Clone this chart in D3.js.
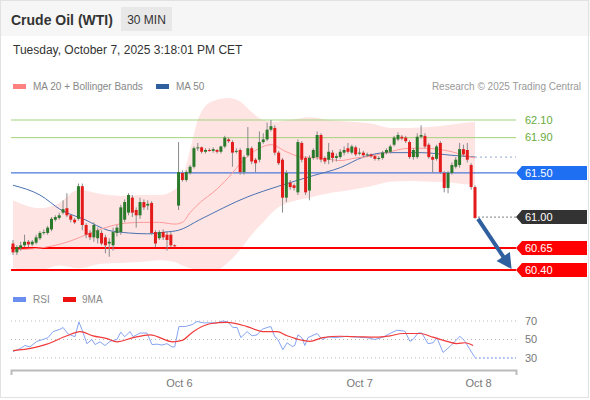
<!DOCTYPE html>
<html>
<head>
<meta charset="utf-8">
<script src="https://cdnjs.cloudflare.com/ajax/libs/d3/7.8.5/d3.min.js"></script>
<style>
  body { margin: 0; background: #fff; }
  svg { font-family: "Liberation Sans", Arial, sans-serif; display: block; }
</style>
</head>
<body>
<div id="chart"></div>
<script>
// 30 min candles, [open, high, low, close]
const candles = [
  [60.70, 60.74, 60.57, 60.60], [60.60, 60.68, 60.57, 60.66], [60.65, 60.72, 60.62, 60.68], [60.68, 60.80, 60.66, 60.72],
  [60.72, 60.74, 60.66, 60.69], [60.69, 60.74, 60.67, 60.72], [60.71, 60.80, 60.69, 60.77], [60.76, 60.84, 60.74, 60.82],
  [60.82, 60.86, 60.80, 60.83], [60.82, 60.90, 60.80, 60.88], [60.86, 61.00, 60.84, 60.98], [60.97, 61.02, 60.95, 61.00],
  [60.99, 61.05, 60.97, 61.02], [61.05, 61.19, 61.03, 61.09], [61.10, 61.27, 61.00, 61.02], [61.02, 61.03, 60.94, 60.97],
  [60.97, 60.99, 60.92, 60.94], [60.98, 61.38, 60.96, 61.35], [61.35, 61.38, 60.85, 60.91], [60.91, 60.93, 60.76, 60.80],
  [60.82, 60.85, 60.74, 60.77], [60.77, 60.94, 60.72, 60.91], [60.76, 60.88, 60.70, 60.85], [60.82, 60.85, 60.68, 60.70],
  [60.77, 60.80, 60.59, 60.68], [60.70, 60.76, 60.55, 60.72], [60.68, 60.88, 60.62, 60.83], [60.82, 60.91, 60.78, 60.88],
  [60.83, 61.14, 60.80, 61.11], [60.97, 61.20, 60.94, 61.17], [61.05, 61.27, 61.02, 61.25], [61.22, 61.25, 61.00, 61.05],
  [61.08, 61.11, 60.88, 61.02], [61.02, 61.22, 60.98, 61.17], [61.17, 61.20, 61.08, 61.11], [61.13, 61.19, 61.08, 61.15],
  [61.16, 61.18, 60.80, 60.82], [60.83, 60.85, 60.66, 60.70], [60.76, 60.85, 60.74, 60.83], [60.83, 60.86, 60.74, 60.77],
  [60.80, 60.83, 60.62, 60.74], [60.80, 60.83, 60.66, 60.68], [60.68, 60.69, 60.66, 60.67], [61.13, 61.85, 61.08, 61.51],
  [61.50, 61.53, 61.40, 61.42], [61.42, 61.53, 61.40, 61.51], [61.50, 61.59, 61.48, 61.57], [61.57, 61.80, 61.55, 61.78],
  [61.78, 61.84, 61.75, 61.79], [61.79, 61.80, 61.72, 61.74], [61.74, 61.78, 61.72, 61.76], [61.76, 61.78, 61.74, 61.75],
  [61.75, 61.79, 61.73, 61.77], [61.76, 61.77, 61.72, 61.74], [61.74, 61.81, 61.72, 61.80], [61.80, 61.92, 61.78, 61.90],
  [61.88, 61.90, 61.84, 61.86], [61.85, 61.87, 61.57, 61.73], [61.74, 61.78, 61.72, 61.75], [61.76, 61.78, 61.48, 61.51],
  [61.51, 61.70, 61.48, 61.68], [61.70, 62.02, 61.68, 61.78], [61.78, 61.80, 61.60, 61.63], [61.65, 61.67, 61.51, 61.61],
  [61.65, 61.97, 61.62, 61.85], [61.85, 61.95, 61.83, 61.88], [61.88, 62.07, 61.86, 61.99], [61.99, 62.10, 61.97, 62.03],
  [62.01, 62.04, 61.70, 61.73], [61.73, 61.75, 61.59, 61.61], [61.65, 61.67, 61.05, 61.22], [61.22, 61.53, 61.17, 61.50],
  [61.39, 61.42, 61.31, 61.34], [61.36, 61.38, 61.30, 61.33], [61.28, 61.88, 61.25, 61.85], [61.84, 61.86, 61.62, 61.65],
  [61.67, 61.69, 61.25, 61.28], [61.30, 61.70, 61.19, 61.67], [61.67, 61.78, 61.65, 61.76], [61.68, 61.97, 61.65, 61.93],
  [61.93, 61.95, 61.62, 61.65], [61.67, 61.69, 61.60, 61.63], [61.65, 61.84, 61.60, 61.74], [61.73, 61.76, 61.62, 61.67],
  [61.67, 61.72, 61.63, 61.69], [61.68, 61.77, 61.66, 61.74], [61.73, 61.80, 61.70, 61.76], [61.78, 61.84, 61.72, 61.74],
  [61.73, 61.82, 61.71, 61.80], [61.79, 61.81, 61.69, 61.71], [61.72, 61.78, 61.70, 61.73], [61.73, 61.75, 61.68, 61.70],
  [61.70, 61.73, 61.68, 61.71], [61.71, 61.72, 61.67, 61.69], [61.69, 61.71, 61.64, 61.66], [61.66, 61.69, 61.64, 61.67],
  [61.67, 61.75, 61.65, 61.73], [61.73, 61.78, 61.71, 61.76], [61.74, 61.82, 61.72, 61.80], [61.82, 61.92, 61.80, 61.90],
  [61.88, 61.96, 61.86, 61.93], [61.91, 61.93, 61.87, 61.89], [61.90, 61.92, 61.84, 61.86], [61.85, 61.87, 61.66, 61.68],
  [61.68, 61.78, 61.65, 61.76], [61.68, 61.95, 61.66, 61.91], [61.91, 62.04, 61.89, 61.93], [61.92, 61.95, 61.78, 61.80],
  [61.82, 61.84, 61.66, 61.68], [61.68, 61.70, 61.50, 61.65], [61.66, 61.82, 61.64, 61.80], [61.84, 61.86, 61.49, 61.51],
  [61.50, 61.52, 61.28, 61.33], [61.33, 61.52, 61.27, 61.50], [61.50, 61.62, 61.48, 61.59], [61.57, 61.68, 61.55, 61.65],
  [61.59, 61.84, 61.56, 61.77], [61.77, 61.82, 61.68, 61.71], [61.76, 61.84, 61.62, 61.65], [61.59, 61.61, 61.31, 61.34],
  [61.34, 61.36, 60.98, 60.99]
];

// Bollinger bands (20) read at these candle indexes
const bandIdx = [0, 7, 12, 17, 23, 28, 33, 38, 42, 44, 46, 48, 50, 53, 56, 59, 62, 65, 68, 72, 77, 82, 88, 93, 98, 103, 108, 114, 120];
const bbUpper = [61.19, 61.10, 61.16, 61.31, 61.26, 61.24, 61.25, 61.25, 61.31, 61.44, 61.76, 62.10, 62.26, 62.33, 62.35, 62.31, 62.19, 62.10, 62.08, 62.10, 62.13, 62.10, 62.08, 62.06, 62.01, 62.01, 62.02, 62.05, 62.08];
const bbLower = [60.42, 60.40, 60.45, 60.42, 60.47, 60.48, 60.49, 60.51, 60.49, 60.45, 60.42, 60.40, 60.39, 60.40, 60.49, 60.63, 60.80, 60.94, 61.08, 61.17, 61.22, 61.27, 61.31, 61.35, 61.40, 61.41, 61.40, 61.39, 61.36];

// [candle index, value]
const ma20 = [[0, 60.63], [5, 60.64], [10, 60.67], [15, 60.73], [19, 60.80], [24, 60.88], [29, 60.93], [34, 60.94], [38, 60.94], [42, 60.92],
  [44, 60.94], [46, 61.05], [49, 61.18], [52, 61.28], [56, 61.45], [60, 61.65], [64, 61.78], [67, 61.82], [71, 61.74], [75, 61.68],
  [80, 61.67], [85, 61.64], [89, 61.67], [93, 61.69], [97, 61.73], [103, 61.78], [107, 61.78], [110, 61.77], [114, 61.74], [117, 61.70], [120, 61.67]];
const ma50 = [[0, 61.36], [7, 61.25], [12.5, 61.08], [18.7, 60.97], [24.7, 60.85], [30, 60.82], [35, 60.81], [39.5, 60.83], [43, 60.85],
  [48.5, 60.97], [61, 61.23], [69, 61.35], [78, 61.47], [85, 61.56], [91, 61.68], [97, 61.73], [106, 61.73], [114, 61.70], [120, 61.68]];

const rsi = [[0, 37], [1.8, 40], [3.1, 43.5], [4.4, 42], [6.2, 48], [7.8, 50], [9.1, 52], [10.4, 58.5], [12.2, 61], [13, 63], [14.3, 56],
  [16.1, 53], [17.1, 69], [17.9, 61], [19.2, 45.5], [20.5, 50], [21.3, 44.5], [22.6, 47.5], [23.9, 43.5], [25.2, 48], [27, 50], [28, 58],
  [29, 53], [30.4, 58.5], [31.2, 53], [33, 57], [34.8, 57], [36.1, 44.5], [37.4, 45], [38.7, 44], [40, 45.5], [41.3, 42], [42, 42],
  [43.1, 64], [44.7, 64], [46.5, 66], [47.8, 69.5], [49.4, 68], [51.2, 68], [53, 68], [54.5, 70], [55.8, 69], [57.1, 63], [58.2, 63],
  [59.2, 52], [60.8, 58.5], [62.1, 54], [63.4, 55], [64.7, 61], [66, 63], [67, 64], [68, 53], [68.8, 50], [70.1, 39], [71.2, 46.5],
  [72.5, 42.5], [73.2, 43.5], [74, 55], [75, 52], [75.8, 43.5], [76.6, 52], [79, 56.5], [80.3, 50], [81.8, 53], [83.6, 52], [86.8, 53.5],
  [89.4, 52.5], [91.9, 52], [94, 50], [96.1, 52.5], [97.9, 56.5], [99.7, 60], [101.8, 59], [103.1, 48], [103.9, 50], [105.2, 57],
  [106.2, 57], [107.8, 45.5], [109.1, 46.5], [110.1, 52], [111.7, 36], [113.5, 42.5], [114.8, 48], [116.1, 53.5], [117.4, 48],
  [118.7, 39], [120, 30.5]];
const rsiMa = [[0, 38], [5.2, 41], [8.8, 45], [14, 54], [17.4, 58.5], [20.8, 54], [24.4, 51], [27, 47.5], [31.2, 52], [35.6, 55],
  [41.6, 47.5], [43.9, 49], [46.8, 58.5], [51.2, 67], [55.6, 68.5], [60.8, 64], [64.9, 58.5], [68.6, 58.5], [71.2, 54], [75.3, 49],
  [77.1, 48], [80.5, 52], [84.9, 53.5], [89.4, 53], [94.5, 52.5], [97.9, 54], [101.3, 56.5], [105.7, 56.5], [109.1, 52.5],
  [112.7, 48], [115.3, 45.5], [117.4, 46.5], [119.5, 43.5]];

const resistance = [62.10, 61.90];
const pivot = 61.50;
const support = [60.65, 60.40];
const lastPrice = 61.00;
const targetIdx = 129.5;
const rsiTicks = [70, 50, 30];
const xTicks = [43.1, 89.9, 120.8];
const xTickLabels = ['Oct 6', 'Oct 7', 'Oct 8'];

const width = 590;
const height = 400;
const plotLeft = 11;
const plotRight = 516;

const svg = d3.select('#chart').append('svg')
  .attr('width', width).attr('height', height);

// header
svg.append('rect').attr('width', width).attr('height', 36).attr('fill', '#f6f6f6');
svg.append('rect').attr('x', 0.5).attr('y', 0.5).attr('width', 588).attr('height', 397)
  .attr('fill', 'none').attr('stroke', '#e2e2e2');
svg.append('text').attr('x', 11).attr('y', 25)
  .attr('font-size', 14).attr('font-weight', 'bold').attr('fill', '#333')
  .text('Crude Oil (WTI)');
svg.append('rect').attr('x', 121).attr('y', 7).attr('width', 51).attr('height', 24).attr('fill', '#e8e8e8');
svg.append('text').attr('x', 146.5).attr('y', 23.5).attr('text-anchor', 'middle')
  .attr('font-size', 12).attr('fill', '#333').text('30 MIN');
svg.append('text').attr('x', 13).attr('y', 54)
  .attr('font-size', 12).attr('fill', '#333')
  .text('Tuesday, October 7, 2025 3:18:01 PM CET');

// legend
svg.append('rect').attr('x', 13).attr('y', 84).attr('width', 13).attr('height', 5).attr('fill', '#ff8080');
svg.append('text').attr('x', 33).attr('y', 90).attr('font-size', 10).attr('fill', '#888').text('MA 20 + Bollinger Bands');
svg.append('rect').attr('x', 156).attr('y', 84).attr('width', 13).attr('height', 5).attr('fill', '#2f5f9f');
svg.append('text').attr('x', 176).attr('y', 90).attr('font-size', 10).attr('fill', '#888').text('MA 50');
svg.append('text').attr('x', 581).attr('y', 90).attr('text-anchor', 'end')
  .attr('font-size', 10).attr('fill', '#999').text('Research \u00a9 2025 Trading Central');

const xScale = d3.scaleLinear().domain([-0.52, 130.65]).range([plotLeft, plotRight]);
const yScale = d3.scaleLinear().domain([60.40, 62.10]).range([270, 120]);
const rsiScale = d3.scaleLinear().domain([30, 70]).range([358, 321]);

const g = svg.append('g');

// bollinger band
const bandArea = d3.area()
  .x(i => xScale(bandIdx[i]))
  .y0(i => yScale(bbLower[i]))
  .y1(i => yScale(bbUpper[i]))
  .curve(d3.curveMonotoneX);
g.append('path').datum(d3.range(bandIdx.length))
  .attr('d', bandArea).attr('fill', '#ffe4e4');

// levels
g.selectAll('.res-line').data(resistance).join('line').attr('class', 'res-line')
  .attr('x1', plotLeft).attr('x2', plotRight)
  .attr('y1', d => yScale(d)).attr('y2', d => yScale(d))
  .attr('stroke', '#a3d37c').attr('stroke-width', 1);
g.append('line')
  .attr('x1', plotLeft).attr('x2', plotRight)
  .attr('y1', yScale(pivot)).attr('y2', yScale(pivot))
  .attr('stroke', '#4a78d8').attr('stroke-width', 1.3);
g.selectAll('.sup-line').data(support).join('line').attr('class', 'sup-line')
  .attr('x1', plotLeft).attr('x2', plotRight)
  .attr('y1', d => yScale(d)).attr('y2', d => yScale(d))
  .attr('stroke', '#ff0000').attr('stroke-width', 2);

// moving averages
const maLine = d3.line().x(d => xScale(d[0])).y(d => yScale(d[1])).curve(d3.curveMonotoneX);
g.append('path').datum(ma50).attr('d', maLine)
  .attr('fill', 'none').attr('stroke', '#4a72b0').attr('stroke-width', 1);
g.append('path').datum(ma20).attr('d', maLine)
  .attr('fill', 'none').attr('stroke', '#ff9a9a').attr('stroke-width', 1);
const lastMa50 = ma50[ma50.length - 1];
g.append('line')
  .attr('x1', xScale(lastMa50[0])).attr('x2', plotRight)
  .attr('y1', yScale(lastMa50[1])).attr('y2', yScale(lastMa50[1]))
  .attr('stroke', '#a9b9dc').attr('stroke-width', 1.2).attr('stroke-dasharray', '2 3');

// candles
const lastIdx = candles.length - 1;
const candleG = g.selectAll('.candle').data(candles).join('g').attr('class', 'candle');
candleG.append('line')
  .attr('x1', (d, i) => xScale(i)).attr('x2', (d, i) => xScale(i))
  .attr('y1', d => yScale(d[1])).attr('y2', d => yScale(d[2]))
  .attr('stroke', '#8a8a8a').attr('stroke-width', 1);
candleG.append('rect')
  .attr('x', (d, i) => xScale(i) - 1.5)
  .attr('width', 3)
  .attr('y', d => yScale(Math.max(d[0], d[3])))
  .attr('height', d => Math.max(1, Math.abs(yScale(d[0]) - yScale(d[3]))))
  .attr('fill', d => d[3] >= d[0] ? '#2b7a2b' : '#e31b1b');

// last price dotted line
g.append('line')
  .attr('x1', xScale(lastIdx) + 3).attr('x2', plotRight)
  .attr('y1', yScale(lastPrice)).attr('y2', yScale(lastPrice))
  .attr('stroke', '#999').attr('stroke-width', 1.2).attr('stroke-dasharray', '2 2');

// forecast arrow
const p0 = [xScale(lastIdx) + 3, yScale(candles[lastIdx][3]) + 1];
const p1 = [xScale(targetIdx), yScale(support[1]) - 1];
const len = Math.hypot(p1[0] - p0[0], p1[1] - p0[1]);
const ux = (p1[0] - p0[0]) / len, uy = (p1[1] - p0[1]) / len;
const headLen = 15, headW = 8;
g.append('line')
  .attr('x1', p0[0]).attr('y1', p0[1])
  .attr('x2', p1[0] - ux * headLen * 0.8).attr('y2', p1[1] - uy * headLen * 0.8)
  .attr('stroke', '#2f5f9f').attr('stroke-width', 4);
const bx = p1[0] - ux * headLen, by = p1[1] - uy * headLen;
g.append('path')
  .attr('d', `M${p1[0]},${p1[1]}L${bx - uy * headW},${by + ux * headW}L${bx + uy * headW},${by - ux * headW}Z`)
  .attr('fill', '#2f5f9f');

// right side labels
g.selectAll('.res-label').data(resistance).join('text').attr('class', 'res-label')
  .attr('x', 525).attr('y', d => yScale(d)).attr('dy', '0.35em')
  .attr('font-size', 11).attr('fill', '#6aaa3d')
  .text(d => d.toFixed(2));
const tags = [[pivot, '#1f6ff2'], [lastPrice, '#333333'], [support[0], '#ff0000'], [support[1], '#ff0000']];
const tagG = g.selectAll('.tag').data(tags).join('g').attr('class', 'tag')
  .attr('transform', d => `translate(${plotRight},${yScale(d[0])})`);
tagG.append('path').attr('d', 'M0,0L6,-7H71V7H6Z').attr('fill', d => d[1]);
tagG.append('text').attr('x', 9).attr('dy', '0.35em')
  .attr('font-size', 11).attr('fill', '#fff').text(d => d[0].toFixed(2));

// RSI panel
svg.append('rect').attr('x', 13).attr('y', 297).attr('width', 13).attr('height', 5).attr('fill', '#6a8ff0');
svg.append('text').attr('x', 33).attr('y', 303).attr('font-size', 10).attr('fill', '#888').text('RSI');
svg.append('rect').attr('x', 63).attr('y', 297).attr('width', 13).attr('height', 5).attr('fill', '#ee1111');
svg.append('text').attr('x', 82).attr('y', 303).attr('font-size', 10).attr('fill', '#888').text('9MA');

const rsiG = svg.append('g');
rsiG.selectAll('.rsi-grid').data(rsiTicks).join('line').attr('class', 'rsi-grid')
  .attr('x1', plotLeft).attr('x2', plotRight)
  .attr('y1', d => rsiScale(d)).attr('y2', d => rsiScale(d))
  .attr('stroke', '#bbb').attr('stroke-width', 1).attr('stroke-dasharray', '1 3');
rsiG.selectAll('.rsi-label').data(rsiTicks).join('text').attr('class', 'rsi-label')
  .attr('x', 525).attr('y', d => rsiScale(d)).attr('dy', '0.35em')
  .attr('font-size', 11).attr('fill', '#777').text(d => d);
const rsiLine = d3.line().x(d => xScale(d[0])).y(d => rsiScale(d[1]));
rsiG.append('path').datum(rsi).attr('d', rsiLine)
  .attr('fill', 'none').attr('stroke', '#86a4f0').attr('stroke-width', 1);
rsiG.append('path').datum(rsiMa).attr('d', rsiLine.curve(d3.curveMonotoneX))
  .attr('fill', 'none').attr('stroke', '#f23a3a').attr('stroke-width', 1.2);
const lastRsi = rsi[rsi.length - 1];
rsiG.append('line')
  .attr('x1', xScale(lastRsi[0])).attr('x2', plotRight)
  .attr('y1', rsiScale(rsiTicks[2])).attr('y2', rsiScale(rsiTicks[2]))
  .attr('stroke', '#86a4f0').attr('stroke-width', 1.2).attr('stroke-dasharray', '2 2');

// x axis
const xAxis = d3.axisBottom(xScale)
  .tickValues(xTicks)
  .tickFormat((d, i) => xTickLabels[i])
  .tickSize(0).tickSizeOuter(5).tickPadding(9);
const xAxisG = svg.append('g').attr('transform', 'translate(0,370)').call(xAxis);
xAxisG.select('.domain').attr('stroke', '#bbb').attr('stroke-width', 2);
xAxisG.selectAll('text').attr('font-size', 11).attr('fill', '#777')
  .attr('font-family', '"Liberation Sans", Arial, sans-serif');
</script>
</body>
</html>
